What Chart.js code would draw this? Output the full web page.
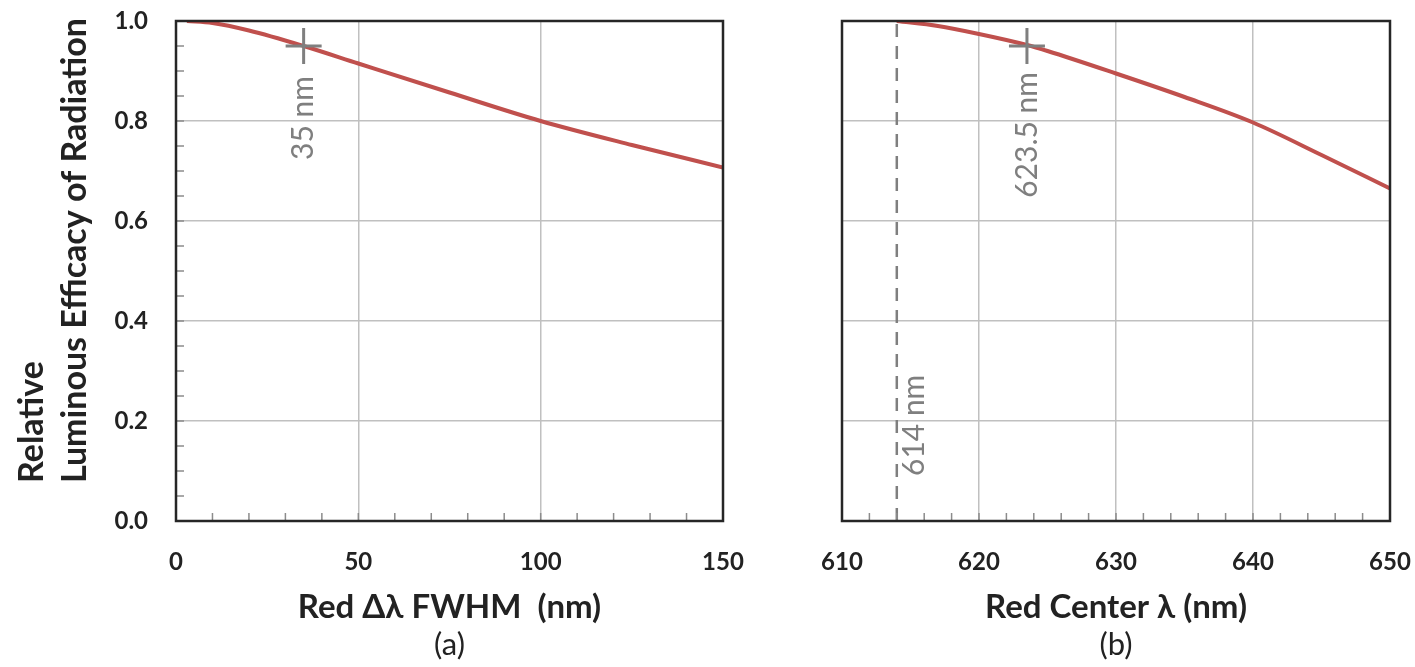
<!DOCTYPE html>
<html>
<head>
<meta charset="utf-8">
<script src="https://cdn.jsdelivr.net/npm/chart.js@4.4.1/dist/chart.umd.min.js"></script>
<style>
html,body{margin:0;padding:0;background:#fff;}
#wrap{position:relative;width:1415px;height:667px;overflow:hidden;}
#c1{position:absolute;left:0;top:0;}
#c2{position:absolute;left:770px;top:0;}
</style>
</head>
<body>
<div id="wrap">
<canvas id="c1" width="770" height="667"></canvas>
<canvas id="c2" width="645" height="667"></canvas>
</div>
<script>
// ---- data ----
const fwhmX = [3, 10, 20, 35, 50, 75, 100, 125, 150];
const fwhmY = [1.0, 0.996, 0.981, 0.95, 0.915, 0.857, 0.80, 0.752, 0.707];
const centerX = [614, 617, 620, 623.5, 625, 630, 635, 640, 645, 650];
const centerY = [1.0, 0.99, 0.974, 0.952, 0.94, 0.895, 0.848, 0.797, 0.732, 0.665];
const markA = {x: 35, y: 0.95, label: '35 nm'};
const markB = {x: 623.5, y: 0.95, label: '623.5 nm'};
const refLineX = 614;
const refLineLabel = '614 nm';
const refLineY = [0, 1];
const yTitleLines = ['Relative', 'Luminous Efficacy of Radiation'];
const xTitleA = 'Red \u0394\u03bb FWHM  (nm)';
const xTitleB = 'Red Center \u03bb (nm)';
const subA = '(a)';
const subB = '(b)';
const yRange = [0, 1], yStep = 0.2, yMinor = 0.05;
const xRangeA = [0, 150], xStepA = 50, xMinorA = 10;
const xRangeB = [610, 650], xStepB = 10, xMinorB = 2;

const FONT = 'Lato, "Open Sans", sans-serif';
const RED = 'rgb(192,80,77)';
const GRAY = '#7f7f7f';
const GRID = '#c0c0c0';
const DARK = '#222222';

function zip(xs, ys){ return xs.map((x,i)=>({x:x, y:ys[i]})); }

// plugin: border, inward minor ticks, rotated annotations, sub captions, y title
const decor = {
  id: 'decor',
  afterDatasetsDraw(chart, args, opts) {
    const ctx = chart.ctx, a = chart.chartArea;
    const xs = chart.scales.x, ys = chart.scales.y;
    ctx.save();
    // minor ticks
    ctx.strokeStyle = '#8c8c8c';
    ctx.lineWidth = 1.5;
    ctx.beginPath();
    for (let v = xs.min + opts.xMinor; v < xs.max - 1e-9; v += opts.xMinor) {
      const px = xs.getPixelForValue(v);
      ctx.moveTo(px, a.bottom); ctx.lineTo(px, a.bottom - 8);
    }
    if (opts.yMinor) {
      for (let v = ys.min + opts.yMinor; v < ys.max - 1e-9; v += opts.yMinor) {
        const py = ys.getPixelForValue(v);
        ctx.moveTo(a.left, py); ctx.lineTo(a.left + 8, py);
      }
    }
    ctx.stroke();
    // border
    ctx.strokeStyle = '#262626';
    ctx.lineWidth = 2.5;
    ctx.strokeRect(a.left, a.top, a.right - a.left, a.bottom - a.top);
    // rotated marker labels
    ctx.fillStyle = GRAY;
    ctx.font = '30px ' + FONT;
    ctx.textBaseline = 'middle';
    (opts.labels || []).forEach(l => {
      ctx.save();
      ctx.translate(xs.getPixelForValue(l.x) + (l.dx || 0), ys.getPixelForValue(l.y) + (l.dy || 0));
      ctx.rotate(-Math.PI / 2);
      ctx.textAlign = l.align;
      ctx.fillText(l.text, 0, 0);
      ctx.restore();
    });
    // sub caption (a)/(b)
    ctx.fillStyle = DARK;
    ctx.font = '31px ' + FONT;
    ctx.textAlign = 'center';
    ctx.textBaseline = 'middle';
    ctx.fillText(opts.sub, (a.left + a.right) / 2, 645);
    // y title
    if (opts.yTitle) {
      ctx.font = 'bold 34px ' + FONT;
      ctx.textAlign = 'left';
      ctx.textBaseline = 'alphabetic';
      opts.yTitle.forEach((t, i) => {
        ctx.save();
        ctx.translate(43 + i * 43, a.bottom - 38);
        ctx.rotate(-Math.PI / 2);
        ctx.fillText(t, 0, 0);
        ctx.restore();
      });
    }
    ctx.restore();
  }
};

function makeOpts(cfg) {
  return {
    responsive: false,
    animation: false,
    layout: {padding: {top: 20, right: cfg.padRight, left: 0, bottom: 0}},
    plugins: {
      legend: {display: false},
      tooltip: {enabled: false},
      title: {display: false},
      decor: cfg.decor
    },
    scales: {
      x: {
        type: 'linear',
        min: cfg.xRange[0], max: cfg.xRange[1],
        afterFit: s => { s.height = 146; s.paddingLeft = 0; s.paddingRight = 0; },
        border: {display: false},
        grid: {color: GRID, lineWidth: 1.5, drawTicks: false},
        ticks: {stepSize: cfg.xStep, padding: 27, color: DARK, font: {family: FONT, size: 24, weight: 'bold'}},
        title: {display: true, text: cfg.xTitle, color: DARK, font: {family: FONT, size: 33, weight: 'bold'}, padding: {top: 0, bottom: 40}}
      },
      y: {
        min: yRange[0], max: yRange[1],
        afterFit: s => { s.width = cfg.yWidth; s.paddingTop = 0; s.paddingBottom = 0; },
        border: {display: false},
        grid: {color: GRID, lineWidth: 1.5, drawTicks: false},
        ticks: {display: cfg.yLabels, stepSize: yStep, padding: 28, color: DARK,
          font: {family: FONT, size: 24, weight: 'bold'},
          callback: v => v.toFixed(1)}
      }
    }
  };
}

new Chart(document.getElementById('c1'), {
  type: 'line',
  data: {
    datasets: [
      {data: zip([markA.x], [markA.y]), type: 'scatter', pointStyle: 'cross', pointRadius: 18, pointBorderWidth: 3, borderColor: GRAY, backgroundColor: GRAY, order: 0},
      {data: zip(fwhmX, fwhmY), borderColor: RED, borderWidth: 4, pointRadius: 0, cubicInterpolationMode: 'monotone', fill: false, order: 1}
    ]
  },
  options: makeOpts({
    padRight: 47, yWidth: 176, yLabels: true, xRange: xRangeA, xStep: xStepA, xTitle: xTitleA,
    decor: {xMinor: xMinorA, yMinor: yMinor, sub: subA, yTitle: yTitleLines,
      labels: [{x: markA.x, y: markA.y, dy: 30, text: markA.label, align: 'right'}]}
  }),
  plugins: [decor]
});

new Chart(document.getElementById('c2'), {
  type: 'line',
  data: {
    datasets: [
      {data: zip([markB.x], [markB.y]), type: 'scatter', pointStyle: 'cross', pointRadius: 18, pointBorderWidth: 3, borderColor: GRAY, backgroundColor: GRAY, order: 0},
      {data: zip(centerX, centerY), borderColor: RED, borderWidth: 4, pointRadius: 0, cubicInterpolationMode: 'monotone', fill: false, order: 1},
      {data: zip([refLineX, refLineX], refLineY), borderColor: GRAY, borderWidth: 2.5, borderDash: [13, 9], pointRadius: 0, fill: false, order: 2}
    ]
  },
  options: makeOpts({
    padRight: 25, yWidth: 72, yLabels: false, xRange: xRangeB, xStep: xStepB, xTitle: xTitleB,
    decor: {xMinor: xMinorB, yMinor: 0, sub: subB, yTitle: null,
      labels: [{x: markB.x, y: markB.y, dy: 26, text: markB.label, align: 'right'},
               {x: refLineX, y: 0.09, dx: 18, text: refLineLabel, align: 'left'}]}
  }),
  plugins: [decor]
});
</script>
</body>
</html>
